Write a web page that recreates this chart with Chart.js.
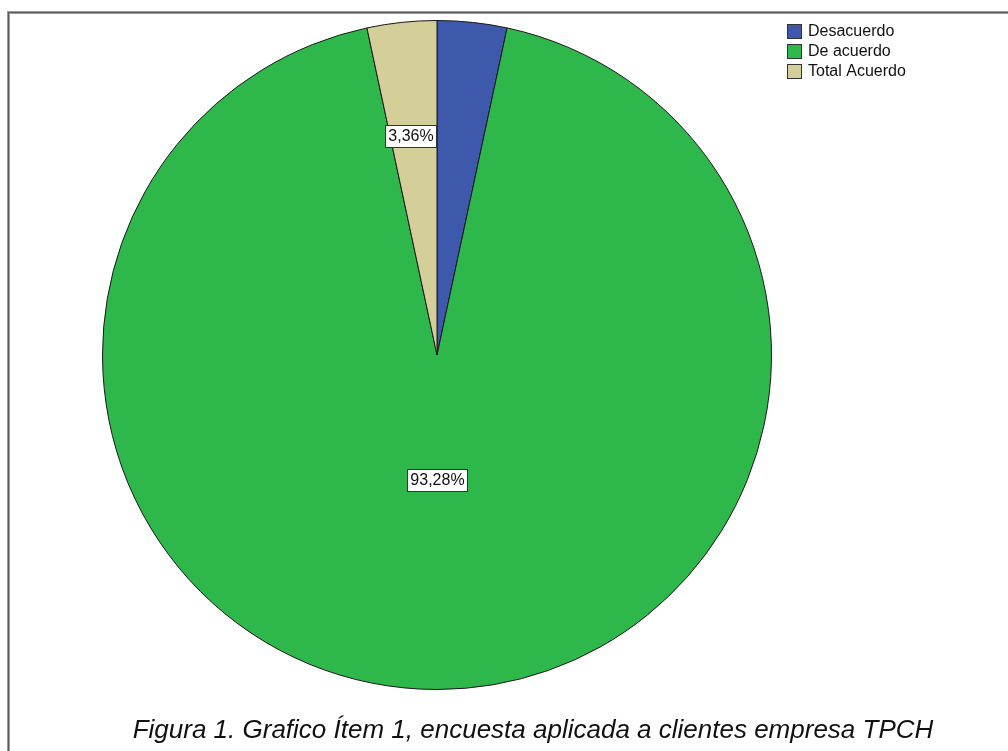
<!DOCTYPE html>
<html>
<head>
<meta charset="utf-8">
<script src="https://cdn.jsdelivr.net/npm/chart.js@4/dist/chart.umd.min.js"></script>
<style>
  html, body { margin: 0; padding: 0; background: #fff; }
  canvas { display: block; }
</style>
</head>
<body>
<canvas id="itemChart" width="1008" height="751"></canvas>
<script>
// Survey answers for item 1
const categories = ['Desacuerdo', 'De acuerdo', 'Total Acuerdo'];
const percentages = [3.36, 93.28, 3.36];
const sliceColors = ['#3e58ac', '#2eb84b', '#d4ce99'];
// which slice labels are shown (the first one is hidden behind the third)
const showLabel = [false, true, true];
const caption = 'Figura 1. Grafico Ítem 1, encuesta aplicada a clientes empresa TPCH';

// Percent format with comma decimals
function formatPct(v) {
    return v.toFixed(2).replace('.', ',') + '%';
}

// Outer frame lines and white background
const framePlugin = {
    id: 'frame',
    beforeDraw(chart) {
        const ctx = chart.ctx;
        ctx.save();
        ctx.fillStyle = '#ffffff';
        ctx.fillRect(0, 0, chart.width, chart.height);
        ctx.fillStyle = '#9a9a9a';
        ctx.fillRect(7, 11, 3, chart.height - 11);
        ctx.fillRect(7, 11, chart.width - 7, 3);
        ctx.fillStyle = '#5e5e5e';
        ctx.fillRect(8, 12, 1, chart.height - 12);
        ctx.fillRect(8, 12, chart.width - 8, 1);
        ctx.restore();
    }
};

// Boxed percentage labels placed inside the slices
const sliceLabels = {
    id: 'sliceLabels',
    afterDatasetsDraw(chart, args, opts) {
        const ctx = chart.ctx;
        const meta = chart.getDatasetMeta(0);
        ctx.save();
        ctx.font = '16px "Liberation Sans", Arial, sans-serif';
        ctx.textAlign = 'center';
        ctx.textBaseline = 'middle';
        meta.data.forEach((arc, i) => {
            if (!showLabel[i]) return;
            const mid = (arc.startAngle + arc.endAngle) / 2;
            const r = arc.outerRadius * opts.radius[i];
            const x = arc.x + Math.cos(mid) * r + opts.shiftX[i];
            const y = arc.y + Math.sin(mid) * r;
            const text = formatPct(percentages[i]);
            const w = Math.round(ctx.measureText(text).width + 6);
            const h = 22;
            const left = Math.round(x - w / 2);
            const top = Math.round(y - h / 2);
            ctx.fillStyle = '#ffffff';
            ctx.fillRect(left, top, w, h);
            ctx.strokeStyle = '#333333';
            ctx.lineWidth = 1;
            ctx.strokeRect(left + 0.5, top + 0.5, w, h);
            ctx.fillStyle = '#111111';
            ctx.fillText(text, left + w / 2 + 0.5, top + h / 2 + 1);
        });
        ctx.restore();
    }
};

// Legend block in the top-right corner
const cornerLegend = {
    id: 'cornerLegend',
    afterDraw(chart, args, opts) {
        const ctx = chart.ctx;
        ctx.save();
        ctx.font = '16px "Liberation Sans", Arial, sans-serif';
        ctx.textBaseline = 'middle';
        ctx.textAlign = 'left';
        categories.forEach((name, i) => {
            const y = opts.top + i * 20;
            ctx.fillStyle = sliceColors[i];
            ctx.fillRect(opts.left, y, 15, 15);
            ctx.strokeStyle = '#333333';
            ctx.lineWidth = 1;
            ctx.strokeRect(opts.left + 0.5, y + 0.5, 14, 14);
            ctx.fillStyle = '#111111';
            ctx.fillText(name, opts.left + 21, y + 8);
        });
        ctx.restore();
    }
};

// Figure caption under the pie
const captionPlugin = {
    id: 'caption',
    afterDraw(chart) {
        const ctx = chart.ctx;
        ctx.save();
        ctx.font = 'italic 26px "Liberation Sans", Arial, sans-serif';
        ctx.fillStyle = '#111111';
        ctx.textAlign = 'center';
        ctx.textBaseline = 'alphabetic';
        ctx.fillText(caption, 533, 738);
        ctx.restore();
    }
};

const ctx = document.getElementById('itemChart').getContext('2d');
new Chart(ctx, {
    type: 'pie',
    data: {
        labels: categories,
        datasets: [{
            data: percentages,
            backgroundColor: sliceColors,
            borderColor: '#1a1a1a',
            borderWidth: 1,
        }],
    },
    options: {
        responsive: false,
        animation: false,
        layout: {
            padding: { left: 102, right: 236, top: 20, bottom: 61 },
        },
        plugins: {
            legend: { display: false },
            tooltip: { enabled: false },
            sliceLabels: {
                radius: [0.6, 0.373, 0.657],
                shiftX: [0, 0, -3],
            },
            cornerLegend: { left: 787, top: 24 },
        },
    },
    plugins: [framePlugin, sliceLabels, cornerLegend, captionPlugin],
});
</script>
</body>
</html>
